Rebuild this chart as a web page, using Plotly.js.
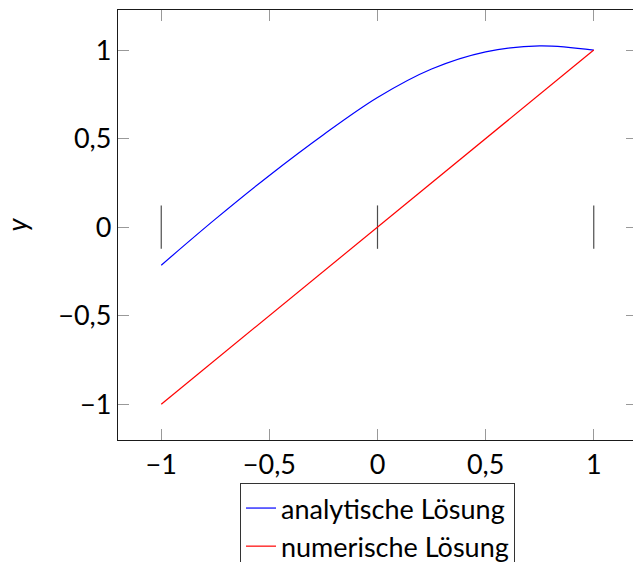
<!DOCTYPE html>
<html>
<head>
<meta charset="utf-8">
<script src="https://cdn.plot.ly/plotly-3.0.1.min.js"></script>
<style>
  html, body { margin: 0; padding: 0; overflow: hidden; background: #fff; }
  #chart { width: 640px; height: 620px; }
</style>
</head>
<body>
<div id="chart"></div>
<script>
// Gitterpunkte (Knoten) der Diskretisierung
const nodeX = [-1, 0, 1];
const nodeY = [0, 0, 0];

// Analytische Lösung
const exactX = [-1, -0.75, -0.5, -0.25, 0, 0.25, 0.5, 0.75, 1];
const exactY = [-0.215, 0.045, 0.292, 0.522, 0.732, 0.893, 0.99, 1.024, 1.0];

// Numerische Lösung an den Knoten
const numX = [-1, 0, 1];
const numY = [-1, 0, 1];

const fontFam = 'Lato, "DejaVu Sans", sans-serif';

const traces = [
  {
    x: nodeX, y: nodeY, mode: 'markers', showlegend: false, hoverinfo: 'skip',
    marker: { symbol: 'line-ns', size: 31, line: { color: '#4d4d4d', width: 1.2 } }
  },
  {
    x: exactX, y: exactY, mode: 'lines', name: 'analytische Lösung',
    line: { color: '#0000ff', width: 1.2, shape: 'spline', smoothing: 1 }
  },
  {
    x: numX, y: numY, mode: 'lines', name: 'numerische Lösung',
    line: { color: '#ff0000', width: 1.2 }
  }
];

const axisCommon = {
  showline: true, mirror: 'ticks', linecolor: '#1a1a1a', linewidth: 1.2,
  ticks: 'inside', ticklen: 11, tickwidth: 1, tickcolor: '#999999',
  showgrid: false, zeroline: false, dtick: 0.5,
  tickfont: { family: fontFam, size: 27, color: '#000' }
};

const layout = {
  width: 640, height: 620,
  margin: { l: 118, r: 3, t: 10, b: 180 },
  paper_bgcolor: '#fff', plot_bgcolor: '#fff',
  separators: ',.',
  font: { family: fontFam, color: '#000' },
  xaxis: Object.assign({}, axisCommon, { range: [-1.2, 1.2], tick0: -1 }),
  yaxis: Object.assign({}, axisCommon, {
    range: [-1.2024, 1.2264], tick0: -1,
    title: { text: '<i>y</i>', font: { family: fontFam, size: 27 }, standoff: 30 }
  }),
  legend: {
    x: 0.5, xanchor: 'center', y: -0.1, yanchor: 'top',
    bordercolor: '#333', borderwidth: 1, bgcolor: '#fff',
    font: { family: fontFam, size: 27, color: '#000' },
    tracegroupgap: 0
  },
  showlegend: true
};

Plotly.newPlot('chart', traces, layout, { staticPlot: true });
</script>
</body>
</html>
